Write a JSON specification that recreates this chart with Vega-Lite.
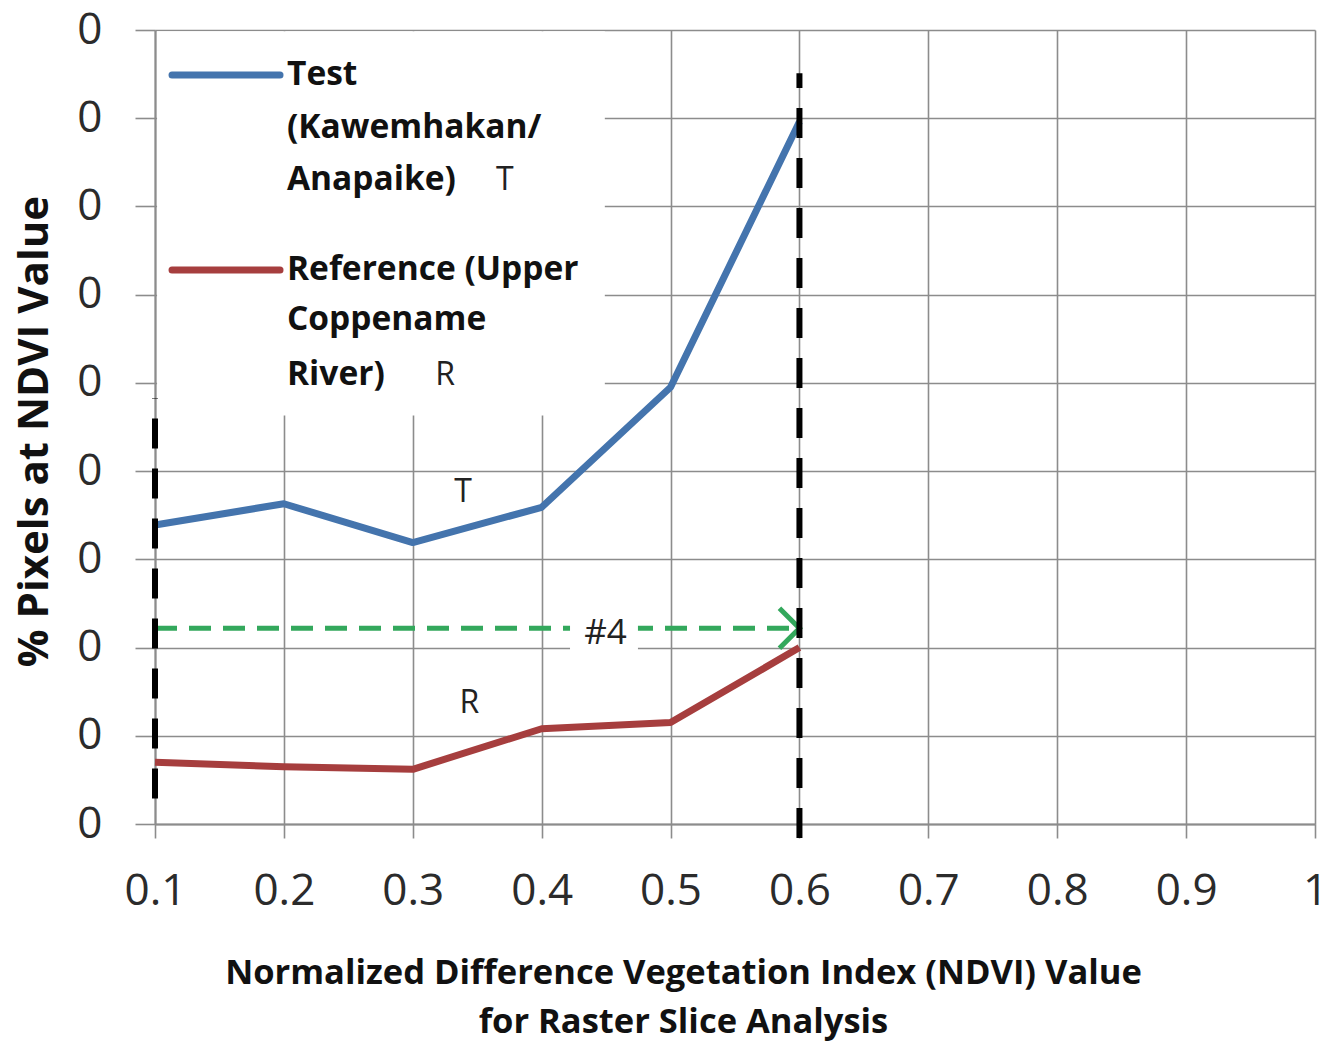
{
  "$schema": "https://vega.github.io/schema/vega-lite/v6.json",
  "autosize": "none",
  "width": 1160,
  "height": 794,
  "padding": {"left": 155, "top": 30, "right": 26, "bottom": 219},
  "background": "white",
  "config": {
    "view": {"stroke": null},
    "font": "Open Sans",
    "axis": {
      "gridColor": "#8c8c8c",
      "gridWidth": 1.6,
      "domainColor": "#8c8c8c",
      "domainWidth": 2,
      "tickColor": "#8c8c8c",
      "tickWidth": 1.6,
      "labelFont": "Open Sans",
      "labelFontSize": 44,
      "labelColor": "#2b2b2b",
      "titleFont": "Open Sans",
      "titleFontWeight": "bold",
      "titleColor": "#111111"
    }
  },
  "layer": [
    {
      "data": {"values": [
        {"series": "Test", "ndvi": 0.1, "pct": 3.39},
        {"series": "Test", "ndvi": 0.2, "pct": 3.63},
        {"series": "Test", "ndvi": 0.3, "pct": 3.19},
        {"series": "Test", "ndvi": 0.4, "pct": 3.59},
        {"series": "Test", "ndvi": 0.5, "pct": 4.95},
        {"series": "Test", "ndvi": 0.6, "pct": 7.96},
        {"series": "Reference", "ndvi": 0.1, "pct": 0.70},
        {"series": "Reference", "ndvi": 0.2, "pct": 0.65},
        {"series": "Reference", "ndvi": 0.3, "pct": 0.62},
        {"series": "Reference", "ndvi": 0.4, "pct": 1.08},
        {"series": "Reference", "ndvi": 0.5, "pct": 1.15},
        {"series": "Reference", "ndvi": 0.6, "pct": 2.0}
      ]},
      "mark": {"type": "line", "strokeWidth": 7, "strokeJoin": "round"},
      "encoding": {
        "x": {
          "field": "ndvi", "type": "quantitative",
          "scale": {"domain": [0.1, 1.0], "nice": false, "zero": false},
          "axis": {
            "values": [0.1, 0.2, 0.3, 0.4, 0.5, 0.6, 0.7, 0.8, 0.9, 1.0],
            "labelExpr": "datum.value == 1 ? '1' : format(datum.value, '.1f')",
            "tickSize": 14,
            "labelPadding": 31,
            "labelFlush": false,
            "title": ["Normalized Difference Vegetation Index (NDVI) Value", "for Raster Slice Analysis"],
            "titleFontSize": 34.5,
            "titleLineHeight": 49,
            "titleBaseline": "alphabetic",
            "titleAnchor": "middle",
            "titleX": 528,
            "titleY": 159
          }
        },
        "y": {
          "field": "pct", "type": "quantitative",
          "scale": {"domain": [0, 9], "nice": false},
          "axis": {
            "values": [0, 1, 2, 3, 4, 5, 6, 7, 8, 9],
            "labelExpr": "'0'",
            "tickSize": 20,
            "labelPadding": 33,
            "labelFlush": false,
            "title": "% Pixels at NDVI Value",
            "titleFontSize": 42,
            "titleAngle": -90,
            "titleBaseline": "middle",
            "titleAlign": "center",
            "titleX": -121,
            "titleY": 401
          }
        },
        "color": {
          "field": "series", "type": "nominal",
          "scale": {"domain": ["Test", "Reference"], "range": ["#4474ad", "#a63e3e"]},
          "legend": null
        }
      }
    },
    {
      "data": {"values": [{"x1": 0.1016, "x2": 0.449, "y1": 4.63, "y2": 8.985}]},
      "mark": {"type": "rect", "color": "white"},
      "encoding": {
        "x": {"field": "x1", "type": "quantitative"},
        "x2": {"field": "x2"},
        "y": {"field": "y1", "type": "quantitative"},
        "y2": {"field": "y2"}
      }
    },
    {
      "data": {"values": [
        {"series": "Test", "x1": 0.1132, "x2": 0.197, "y": 8.49},
        {"series": "Reference", "x1": 0.1132, "x2": 0.197, "y": 6.28}
      ]},
      "mark": {"type": "rule", "strokeWidth": 7, "strokeCap": "round"},
      "encoding": {
        "x": {"field": "x1", "type": "quantitative"},
        "x2": {"field": "x2"},
        "y": {"field": "y", "type": "quantitative"},
        "color": {"field": "series", "type": "nominal", "legend": null}
      }
    },
    {
      "data": {"values": [
        {"label": "Test", "x": 0.2024, "y": 8.49},
        {"label": "(Kawemhakan/", "x": 0.2024, "y": 7.89},
        {"label": "Anapaike)", "x": 0.2024, "y": 7.30},
        {"label": "Reference (Upper", "x": 0.2024, "y": 6.28},
        {"label": "Coppename", "x": 0.2024, "y": 5.71},
        {"label": "River)", "x": 0.2024, "y": 5.09}
      ]},
      "mark": {"type": "text", "align": "left", "baseline": "middle", "font": "Open Sans", "fontWeight": "bold", "fontSize": 33.5, "color": "#111111"},
      "encoding": {
        "x": {"field": "x", "type": "quantitative"},
        "y": {"field": "y", "type": "quantitative"},
        "text": {"field": "label"}
      }
    },
    {
      "data": {"values": [
        {"label": "T", "x": 0.3715, "y": 7.30},
        {"label": "R", "x": 0.3250, "y": 5.09},
        {"label": "T", "x": 0.3390, "y": 3.76},
        {"label": "R", "x": 0.3440, "y": 1.37}
      ]},
      "mark": {"type": "text", "align": "center", "baseline": "middle", "font": "Open Sans", "fontSize": 32, "color": "#222222"},
      "encoding": {
        "x": {"field": "x", "type": "quantitative"},
        "y": {"field": "y", "type": "quantitative"},
        "text": {"field": "label"}
      }
    },
    {
      "data": {"values": [{"x1": 0.1, "x2": 0.6, "y": 2.22}]},
      "mark": {"type": "rule", "strokeWidth": 5, "strokeDash": [22, 12], "color": "#33a85c"},
      "encoding": {
        "x": {"field": "x1", "type": "quantitative"},
        "x2": {"field": "x2"},
        "y": {"field": "y", "type": "quantitative"}
      }
    },
    {
      "data": {"values": [{"x": 0.6, "y": 2.22}]},
      "mark": {"type": "point", "shape": "M-1,-1L0,0L-1,1", "size": 1600, "filled": false, "strokeWidth": 5, "color": "#33a85c", "opacity": 1},
      "encoding": {
        "x": {"field": "x", "type": "quantitative"},
        "y": {"field": "y", "type": "quantitative"}
      }
    },
    {
      "data": {"values": [{"x1": 0.422, "x2": 0.4747, "y1": 1.96, "y2": 2.48}]},
      "mark": {"type": "rect", "color": "white"},
      "encoding": {
        "x": {"field": "x1", "type": "quantitative"},
        "x2": {"field": "x2"},
        "y": {"field": "y1", "type": "quantitative"},
        "y2": {"field": "y2"}
      }
    },
    {
      "data": {"values": [{"label": "#4", "x": 0.4495, "y": 2.17}]},
      "mark": {"type": "text", "align": "center", "baseline": "middle", "font": "Open Sans", "fontSize": 35, "color": "#222222"},
      "encoding": {
        "x": {"field": "x", "type": "quantitative"},
        "y": {"field": "y", "type": "quantitative"},
        "text": {"field": "label"}
      }
    },
    {
      "data": {"values": [
        {"x": 0.1, "y1": 0.29, "y2": 4.83},
        {"x": 0.6, "y1": -0.16, "y2": 8.51}
      ]},
      "mark": {"type": "rule", "strokeWidth": 6, "strokeDash": [30, 20], "color": "#000000"},
      "encoding": {
        "x": {"field": "x", "type": "quantitative"},
        "y": {"field": "y1", "type": "quantitative"},
        "y2": {"field": "y2"}
      }
    }
  ]
}
